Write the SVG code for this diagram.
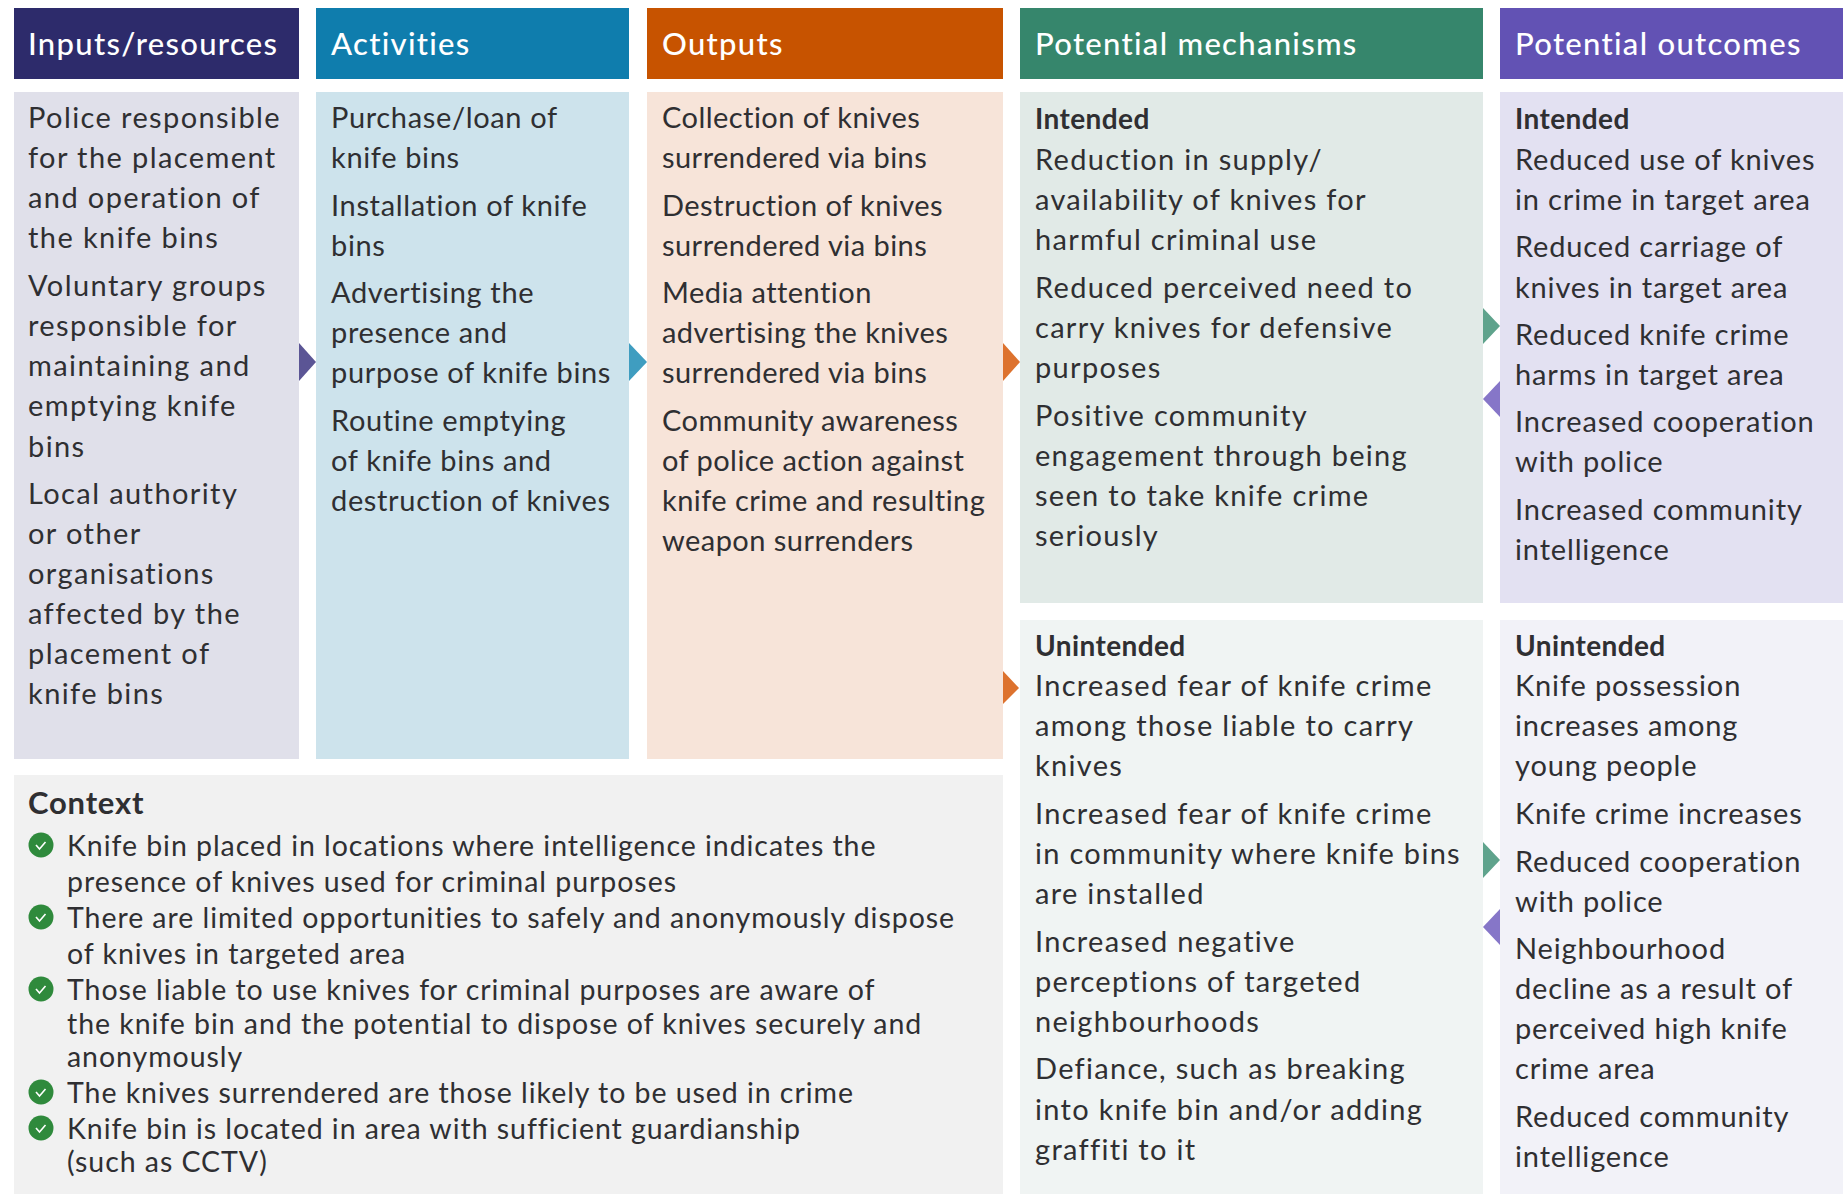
<svg xmlns="http://www.w3.org/2000/svg" width="1843" height="1194" viewBox="0 0 1843 1194">
<style>
text{font-family:"Lato","Liberation Sans",sans-serif;fill:#2f2f32;font-size:29px}
.g1{letter-spacing:1.4px}
.g2{letter-spacing:.65px}
.g3{letter-spacing:.45px}
.g4{letter-spacing:1.3px}
.g5{letter-spacing:.85px}
.h{fill:#fff;font-size:31px;font-weight:500;letter-spacing:1.3px}
.b{font-weight:700;font-size:28px;letter-spacing:.4px}
.c{font-size:28.5px;letter-spacing:.95px}
.t{font-size:31px;font-weight:700;letter-spacing:.8px}
</style>
<defs><g id="ok"><circle r="12.500" fill="#2f8a3c"/><path d="M-5 0l3.500 4 6-7" fill="none" stroke="#fff" stroke-width="1.600"/></g></defs>
<rect width="1843" height="1194" fill="#fff"/>
<g id="inputs" class="g1">
<rect x="14" y="8" width="285" height="71" fill="#2d2b6b"/><rect x="14" y="92" width="285" height="667" fill="#e0e0ea"/>
<text class="h" x="28" y="55">Inputs/resources</text>
<text x="28" y="128">Police responsible</text><text x="28" y="168">for the placement</text><text x="28" y="208">and operation of</text><text x="28" y="248">the knife bins</text>
<text x="28" y="296">Voluntary groups</text><text x="28" y="336">responsible for</text><text x="28" y="376">maintaining and</text><text x="28" y="416">emptying knife</text><text x="28" y="457">bins</text>
<text x="28" y="504">Local authority</text><text x="28" y="544">or other</text><text x="28" y="584">organisations</text><text x="28" y="624">affected by the</text><text x="28" y="664">placement of</text><text x="28" y="704">knife bins</text>
</g>
<g id="activities" class="g2">
<rect x="316" y="8" width="313" height="71" fill="#0f7dad"/><rect x="316" y="92" width="313" height="667" fill="#cde3ec"/>
<text class="h" x="331" y="55">Activities</text>
<text x="331" y="128">Purchase/loan of</text><text x="331" y="168">knife bins</text>
<text x="331" y="216">Installation of knife</text><text x="331" y="256">bins</text>
<text x="331" y="303">Advertising the</text><text x="331" y="343">presence and</text><text x="331" y="383">purpose of knife bins</text>
<text x="331" y="431">Routine emptying</text><text x="331" y="471">of knife bins and</text><text x="331" y="511">destruction of knives</text>
</g>
<g id="outputs" class="g3">
<rect x="647" y="8" width="356" height="71" fill="#c75300"/><rect x="647" y="92" width="356" height="667" fill="#f7e4d9"/>
<text class="h" x="662" y="55">Outputs</text>
<text x="662" y="128">Collection of knives</text><text x="662" y="168">surrendered via bins</text>
<text x="662" y="216">Destruction of knives</text><text x="662" y="256">surrendered via bins</text>
<text x="662" y="303">Media attention</text><text x="662" y="343">advertising the knives</text><text x="662" y="383">surrendered via bins</text>
<text x="662" y="431">Community awareness</text><text x="662" y="471">of police action against</text><text x="662" y="511">knife crime and resulting</text><text x="662" y="551">weapon surrenders</text>
</g>
<g id="mechanisms">
<rect x="1020" y="8" width="463" height="71" fill="#36866c"/>
<text class="h" x="1035" y="55">Potential mechanisms</text>
</g>
<g id="mechanisms-intended" class="g4">
<rect x="1020" y="92" width="463" height="511" fill="#e1eae7"/>
<text class="b" x="1035" y="129">Intended</text>
<text x="1035" y="170">Reduction in supply/</text><text x="1035" y="210">availability of knives for</text><text x="1035" y="250">harmful criminal use</text>
<text x="1035" y="298">Reduced perceived need to</text><text x="1035" y="338">carry knives for defensive</text><text x="1035" y="378">purposes</text>
<text x="1035" y="426">Positive community</text><text x="1035" y="466">engagement through being</text><text x="1035" y="506">seen to take knife crime</text><text x="1035" y="546">seriously</text>
</g>
<g id="mechanisms-unintended" class="g4">
<rect x="1020" y="620" width="463" height="574" fill="#f0f4f3"/>
<text class="b" x="1035" y="656">Unintended</text>
<text x="1035" y="696">Increased fear of knife crime</text><text x="1035" y="736">among those liable to carry</text><text x="1035" y="776">knives</text>
<text x="1035" y="824">Increased fear of knife crime</text><text x="1035" y="864">in community where knife bins</text><text x="1035" y="904">are installed</text>
<text x="1035" y="952">Increased negative</text><text x="1035" y="992">perceptions of targeted</text><text x="1035" y="1032">neighbourhoods</text>
<text x="1035" y="1079">Defiance, such as breaking</text><text x="1035" y="1120">into knife bin and/or adding</text><text x="1035" y="1160">graffiti to it</text>
</g>
<g id="outcomes">
<rect x="1500" y="8" width="343" height="71" fill="#6252b4"/>
<text class="h" x="1515" y="55">Potential outcomes</text>
</g>
<g id="outcomes-intended" class="g5">
<rect x="1500" y="92" width="343" height="511" fill="#e3e1f2"/>
<text class="b" x="1515" y="129">Intended</text>
<text x="1515" y="170">Reduced use of knives</text><text x="1515" y="210">in crime in target area</text>
<text x="1515" y="257">Reduced carriage of</text><text x="1515" y="298">knives in target area</text>
<text x="1515" y="345">Reduced knife crime</text><text x="1515" y="385">harms in target area</text>
<text x="1515" y="432">Increased cooperation</text><text x="1515" y="472">with police</text>
<text x="1515" y="520">Increased community</text><text x="1515" y="560">intelligence</text>
</g>
<g id="outcomes-unintended" class="g5">
<rect x="1500" y="620" width="343" height="574" fill="#f2f2f8"/>
<text class="b" x="1515" y="656">Unintended</text>
<text x="1515" y="696">Knife possession</text><text x="1515" y="736">increases among</text><text x="1515" y="776">young people</text>
<text x="1515" y="824">Knife crime increases</text>
<text x="1515" y="872">Reduced cooperation</text><text x="1515" y="912">with police</text>
<text x="1515" y="959">Neighbourhood</text><text x="1515" y="999">decline as a result of</text><text x="1515" y="1039">perceived high knife</text><text x="1515" y="1079">crime area</text>
<text x="1515" y="1127">Reduced community</text><text x="1515" y="1167">intelligence</text>
</g>
<g id="context">
<rect x="14" y="775" width="989" height="419" fill="#f1f1f1"/>
<text class="t" x="28" y="814">Context</text>
<use href="#ok" x="41" y="845"/><use href="#ok" x="41" y="917"/><use href="#ok" x="41" y="989"/><use href="#ok" x="41" y="1092"/><use href="#ok" x="41" y="1128"/>
<text class="c" x="67" y="856">Knife bin placed in locations where intelligence indicates the</text>
<text class="c" x="67" y="892">presence of knives used for criminal purposes</text>
<text class="c" x="67" y="928">There are limited opportunities to safely and anonymously dispose</text>
<text class="c" x="67" y="964">of knives in targeted area</text>
<text class="c" x="67" y="1000">Those liable to use knives for criminal purposes are aware of</text>
<text class="c" x="67" y="1034">the knife bin and the potential to dispose of knives securely and</text>
<text class="c" x="67" y="1067">anonymously</text>
<text class="c" x="67" y="1103">The knives surrendered are those likely to be used in crime</text>
<text class="c" x="67" y="1139">Knife bin is located in area with sufficient guardianship</text>
<text class="c" x="67" y="1172">(such as CCTV)</text>
</g>
<g id="connectors">
<polygon points="299,343 316,362 299,381" fill="#5b5595"/>
<polygon points="629,343 647,362 629,381" fill="#3f9dc0"/>
<polygon points="1003,343 1020,362 1003,381" fill="#dd722e"/>
<polygon points="1003,671 1019,688 1003,704" fill="#dd722e"/>
<polygon points="1483,308 1500,326 1483,344" fill="#5fa38c"/>
<polygon points="1500,381 1483,399 1500,417" fill="#8676c8"/>
<polygon points="1483,842 1500,860 1483,878" fill="#5fa38c"/>
<polygon points="1500,909 1483,927 1500,945" fill="#8676c8"/>
</g>
</svg>
